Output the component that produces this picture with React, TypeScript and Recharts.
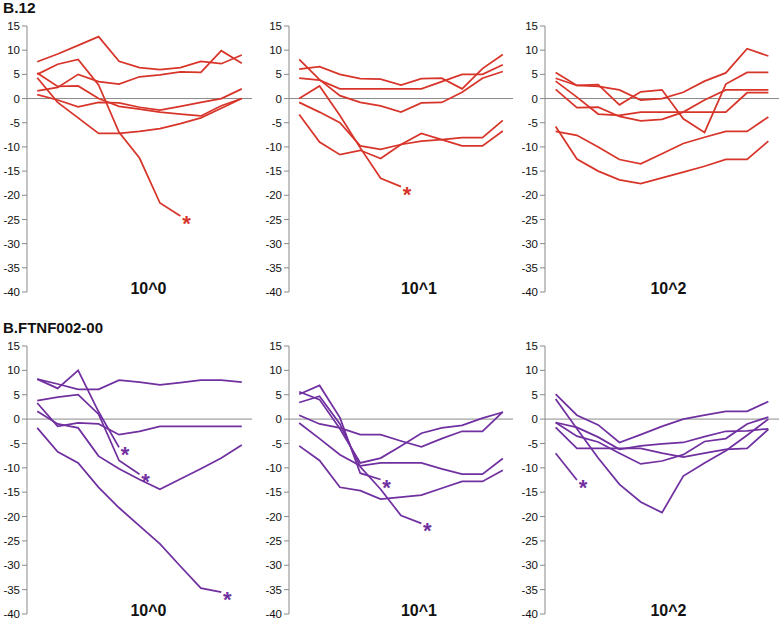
import React from 'react';
import { LineChart, Line, XAxis, YAxis, ReferenceLine } from 'recharts';

// ---------- data ----------
const categories = [3, 4, 5, 6, 7, 8, 9, 10, 11, 12, 13];
const yTicks = [-40, -35, -30, -25, -20, -15, -10, -5, 0, 5, 10, 15];
const Y_MIN = -40;
const Y_MAX = 15;

const groupTitles = ['B.12', 'B.FTNF002-00'];
const doseTitles = ['10^0', '10^1', '10^2'];

// B.12, 10^0
const b12d0a = [7.6, 9.2, 11.0, 12.8, 7.7, 6.4, 6.0, 6.4, 7.7, 7.2, 9.0];
const b12d0b = [1.6, 2.3, 5.0, 3.5, 3.0, 4.5, 4.9, 5.5, 5.4, 9.9, 7.3];
const b12d0c = [5.0, 7.1, 8.1, 2.8, -7.0, -12.3, -21.6, -24.3, null, null, null];
const b12d0d = [5.3, 2.5, 2.6, 0.0, -1.6, -2.2, -2.8, -3.2, -3.6, -1.5, 0.0];
const b12d0e = [0.8, -0.3, -1.7, -0.8, -0.9, -1.8, -2.4, -1.6, -0.8, 0.0, 2.0];
const b12d0f = [4.3, -0.8, -4.0, -7.2, -7.2, -6.8, -6.2, -5.2, -4.0, -2.0, 0.0];

// B.12, 10^1
const b12d1a = [6.1, 6.6, 5.0, 4.1, 4.0, 2.8, 4.1, 4.2, 2.0, 6.2, 9.1];
const b12d1b = [4.2, 3.8, 2.0, 2.0, 2.0, 2.0, 2.0, 3.5, 5.0, 5.0, 7.0];
const b12d1c = [8.1, 3.9, 0.6, -0.8, -1.5, -2.8, -0.9, -0.8, 1.3, 4.2, 5.6];
const b12d1d = [0.0, 2.6, -3.5, -10.2, -16.5, -18.2, null, null, null, null, null];
const b12d1e = [-0.8, -2.8, -5.0, -9.8, -10.5, -9.5, -8.8, -8.5, -8.1, -8.1, -4.5];
const b12d1f = [-3.3, -9.0, -11.6, -10.7, -12.4, -9.5, -7.2, -8.5, -9.8, -9.8, -6.7];

// B.12, 10^2
const b12d2a = [5.4, 2.7, 2.5, 1.8, -0.3, 0.0, 1.3, 3.6, 5.3, 10.3, 8.8];
const b12d2b = [4.2, 2.7, 2.9, -1.3, 1.4, 1.8, -4.2, -7.0, 3.0, 5.4, 5.4];
const b12d2c = [3.6, 0.3, -3.2, -3.5, -2.8, -2.8, -2.8, -2.8, -2.8, 1.2, 1.2];
const b12d2d = [1.9, -1.9, -1.8, -3.7, -4.6, -4.3, -2.8, -0.3, 1.8, 1.8, 1.8];
const b12d2e = [-5.8, -12.5, -15.0, -16.8, -17.6, -16.4, -15.2, -14.0, -12.6, -12.6, -8.8];
const b12d2f = [-6.8, -7.6, -10.0, -12.6, -13.5, -11.4, -9.3, -8.0, -6.8, -6.8, -3.8];

// B.FTNF002-00, 10^0
const ftd0a = [8.2, 6.3, 10.0, 1.5, -5.8, null, null, null, null, null, null];
const ftd0b = [8.2, 7.2, 6.1, 6.1, 8.0, 7.6, 7.0, 7.5, 8.0, 8.0, 7.6];
const ftd0c = [3.8, 4.5, 5.0, 1.0, -8.5, -11.3, null, null, null, null, null];
const ftd0d = [3.3, -1.5, -0.8, -1.0, -3.2, -2.5, -1.5, -1.5, -1.5, -1.5, -1.5];
const ftd0e = [1.6, -1.0, -1.8, -7.6, -10.2, -12.4, -14.4, -12.3, -10.2, -8.0, -5.3];
const ftd0f = [-1.8, -6.7, -9.0, -14.0, -18.2, -21.9, -25.6, -30.2, -34.7, -35.5, null];

// B.FTNF002-00, 10^1
const ftd1a = [5.6, 4.0, -2.0, -9.0, -8.0, -5.5, -2.9, -1.8, -1.3, 0.2, 1.4];
const ftd1b = [5.1, 6.9, 0.3, -11.1, -12.4, null, null, null, null, null, null];
const ftd1c = [3.4, 4.7, -1.0, -9.8, -14.4, -19.8, -21.4, null, null, null, null];
const ftd1d = [0.8, -1.0, -1.8, -3.2, -3.2, -4.5, -5.7, -4.0, -2.5, -2.5, 1.5];
const ftd1e = [-0.8, -4.0, -7.3, -9.6, -9.0, -9.0, -9.0, -10.2, -11.3, -11.3, -8.1];
const ftd1f = [-5.5, -8.5, -14.0, -14.7, -16.4, -16.0, -15.6, -14.2, -12.8, -12.8, -10.5];

// B.FTNF002-00, 10^2
const ftd2a = [5.1, 0.8, -1.2, -4.8, -3.2, -1.5, 0.0, 0.8, 1.6, 1.6, 3.6];
const ftd2b = [4.1, -2.0, -8.0, -13.4, -17.0, -19.2, -11.7, -9.0, -6.5, -3.3, 0.0];
const ftd2c = [-0.7, -1.7, -3.7, -6.2, -5.5, -5.1, -4.8, -3.6, -2.5, -2.4, -2.0];
const ftd2d = [-0.7, -3.5, -4.7, -7.0, -9.2, -8.6, -7.3, -4.6, -4.0, -1.0, 0.4];
const ftd2e = [-1.7, -6.0, -6.0, -6.0, -6.0, -7.0, -7.8, -7.0, -6.2, -6.0, -2.1];
const ftd2f = [-7.0, -12.5, null, null, null, null, null, null, null, null, null];

// index of the point that carries an asterisk (-1 = none)
const starsB12d0 = [-1, -1, 7, -1, -1, -1];
const starsB12d1 = [-1, -1, -1, 5, -1, -1];
const starsB12d2 = [-1, -1, -1, -1, -1, -1];
const starsFtd0 = [4, -1, 5, -1, -1, 9];
const starsFtd1 = [-1, 4, 6, -1, -1, -1];
const starsFtd2 = [-1, -1, -1, -1, -1, 1];

// ---------- styling ----------
const RED = '#D8352A';
const PURPLE = '#7030A0';
const AXIS = '#8A8A8A';
const FONT = '"Liberation Sans", Arial, sans-serif';

type Vals = (number | null)[];

interface PanelProps {
  left: number;
  top: number;
  plotW: number;
  plotH: number;
  lines: Vals[];
  stars: number[];
  color: string;
  mRight: number;
}

function Panel({ left, top, plotW, plotH, lines, stars, color, mRight }: PanelProps) {
  const yW = 30;
  const mT = 8;
  const mB = 6;
  const W = yW + plotW + mRight;
  const H = mT + plotH + mB;
  const band = plotW / categories.length;
  const zeroFromBottom = (plotH * (0 - Y_MIN)) / (Y_MAX - Y_MIN);

  const data = categories.map((c, i) => {
    const row: Record<string, number | null> = { cat: c };
    lines.forEach((s, k) => {
      row['s' + k] = s[i];
    });
    return row;
  });

  const XTick = (props: any) => {
    const { x, y, payload, index } = props;
    const zy = y - zeroFromBottom;
    const last = index === categories.length - 1;
    return (
      <g>
        <line x1={x - band / 2} x2={x - band / 2} y1={zy - 4} y2={zy} stroke={AXIS} strokeWidth={1} />
        {last && <line x1={x + band / 2} x2={x + band / 2} y1={zy - 4} y2={zy} stroke={AXIS} strokeWidth={1} />}
        <text x={x} y={zy + 17} textAnchor="middle" fontSize={12} fontFamily={FONT} fill="#111">
          {payload.value}
        </text>
      </g>
    );
  };

  const makeDot = (starIdx: number, k: number) => (p: any) => {
    if (starIdx >= 0 && p.index === starIdx && p.cx != null && p.cy != null) {
      return (
        <text
          key={'star' + k}
          x={p.cx + 6}
          y={p.cy + 15}
          textAnchor="middle"
          fontSize={22}
          fontWeight="bold"
          fontFamily={FONT}
          fill={color}
        >
          *
        </text>
      );
    }
    return <g key={'d' + k + '-' + p.index} />;
  };

  return (
    <div style={{ position: 'absolute', left: left - yW, top: top - mT }}>
      <LineChart width={W} height={H} data={data} margin={{ top: mT, right: mRight, bottom: mB, left: 0 }}>
        <XAxis
          dataKey="cat"
          type="category"
          height={0}
          interval={0}
          axisLine={false}
          tickLine={false}
          tickSize={0}
          tickMargin={0}
          padding={{ left: band / 2, right: band / 2 }}
          tick={<XTick />}
        />
        <YAxis
          type="number"
          domain={[Y_MIN, Y_MAX]}
          ticks={yTicks}
          interval={0}
          width={yW}
          axisLine={{ stroke: AXIS, strokeWidth: 1 }}
          tickLine={{ stroke: AXIS, strokeWidth: 1 }}
          tickSize={5}
          tickMargin={2}
          tick={{ fontSize: 11.5, fontFamily: FONT, fill: '#111' }}
          allowDataOverflow
        />
        <ReferenceLine y={0} stroke={AXIS} strokeWidth={1} />
        {lines.map((_, k) => (
          <Line
            key={k}
            type="linear"
            dataKey={'s' + k}
            stroke={color}
            strokeWidth={1.75}
            dot={makeDot(stars[k], k)}
            activeDot={false}
            connectNulls={false}
            isAnimationActive={false}
          />
        ))}
      </LineChart>
    </div>
  );
}

export default function App() {
  const topRow = { top: 26, plotH: 266 };
  const botRow = { top: 346, plotH: 268 };
  const cols = [
    { left: 27, plotW: 225, mRight: 2 },
    { left: 288.5, plotW: 224, mRight: 2 },
    { left: 544.5, plotW: 234, mRight: 0 },
  ];
  const b12 = [
    { lines: [b12d0a, b12d0b, b12d0c, b12d0d, b12d0e, b12d0f], stars: starsB12d0 },
    { lines: [b12d1a, b12d1b, b12d1c, b12d1d, b12d1e, b12d1f], stars: starsB12d1 },
    { lines: [b12d2a, b12d2b, b12d2c, b12d2d, b12d2e, b12d2f], stars: starsB12d2 },
  ];
  const ft = [
    { lines: [ftd0a, ftd0b, ftd0c, ftd0d, ftd0e, ftd0f], stars: starsFtd0 },
    { lines: [ftd1a, ftd1b, ftd1c, ftd1d, ftd1e, ftd1f], stars: starsFtd1 },
    { lines: [ftd2a, ftd2b, ftd2c, ftd2d, ftd2e, ftd2f], stars: starsFtd2 },
  ];
  const titleX = [148.5, 419, 668.5];

  return (
    <div
      style={{
        position: 'absolute',
        left: 0,
        top: 0,
        width: 779,
        height: 621,
        overflow: 'hidden',
        background: '#fff',
      }}
    >
      {b12.map((p, i) => (
        <Panel key={'t' + i} left={cols[i].left} top={topRow.top} plotW={cols[i].plotW} plotH={topRow.plotH}
          mRight={cols[i].mRight} lines={p.lines} stars={p.stars} color={RED} />
      ))}
      {ft.map((p, i) => (
        <Panel key={'b' + i} left={cols[i].left} top={botRow.top} plotW={cols[i].plotW} plotH={botRow.plotH}
          mRight={cols[i].mRight} lines={p.lines} stars={p.stars} color={PURPLE} />
      ))}
      <svg width={779} height={621} style={{ position: 'absolute', left: 0, top: 0, pointerEvents: 'none' }}>
        <text x={3} y={13} fontSize={15.5} fontWeight="bold" fontFamily={FONT} fill="#111">{groupTitles[0]}</text>
        <text x={3} y={332.5} fontSize={15} fontWeight="bold" fontFamily={FONT} fill="#111">{groupTitles[1]}</text>
        {doseTitles.map((t, i) => (
          <text key={'dt' + i} x={titleX[i]} y={293.5} textAnchor="middle" fontSize={16} fontWeight="bold" fontFamily={FONT} fill="#111">{t}</text>
        ))}
        {doseTitles.map((t, i) => (
          <text key={'db' + i} x={titleX[i]} y={616} textAnchor="middle" fontSize={16} fontWeight="bold" fontFamily={FONT} fill="#111">{t}</text>
        ))}
      </svg>
    </div>
  );
}
